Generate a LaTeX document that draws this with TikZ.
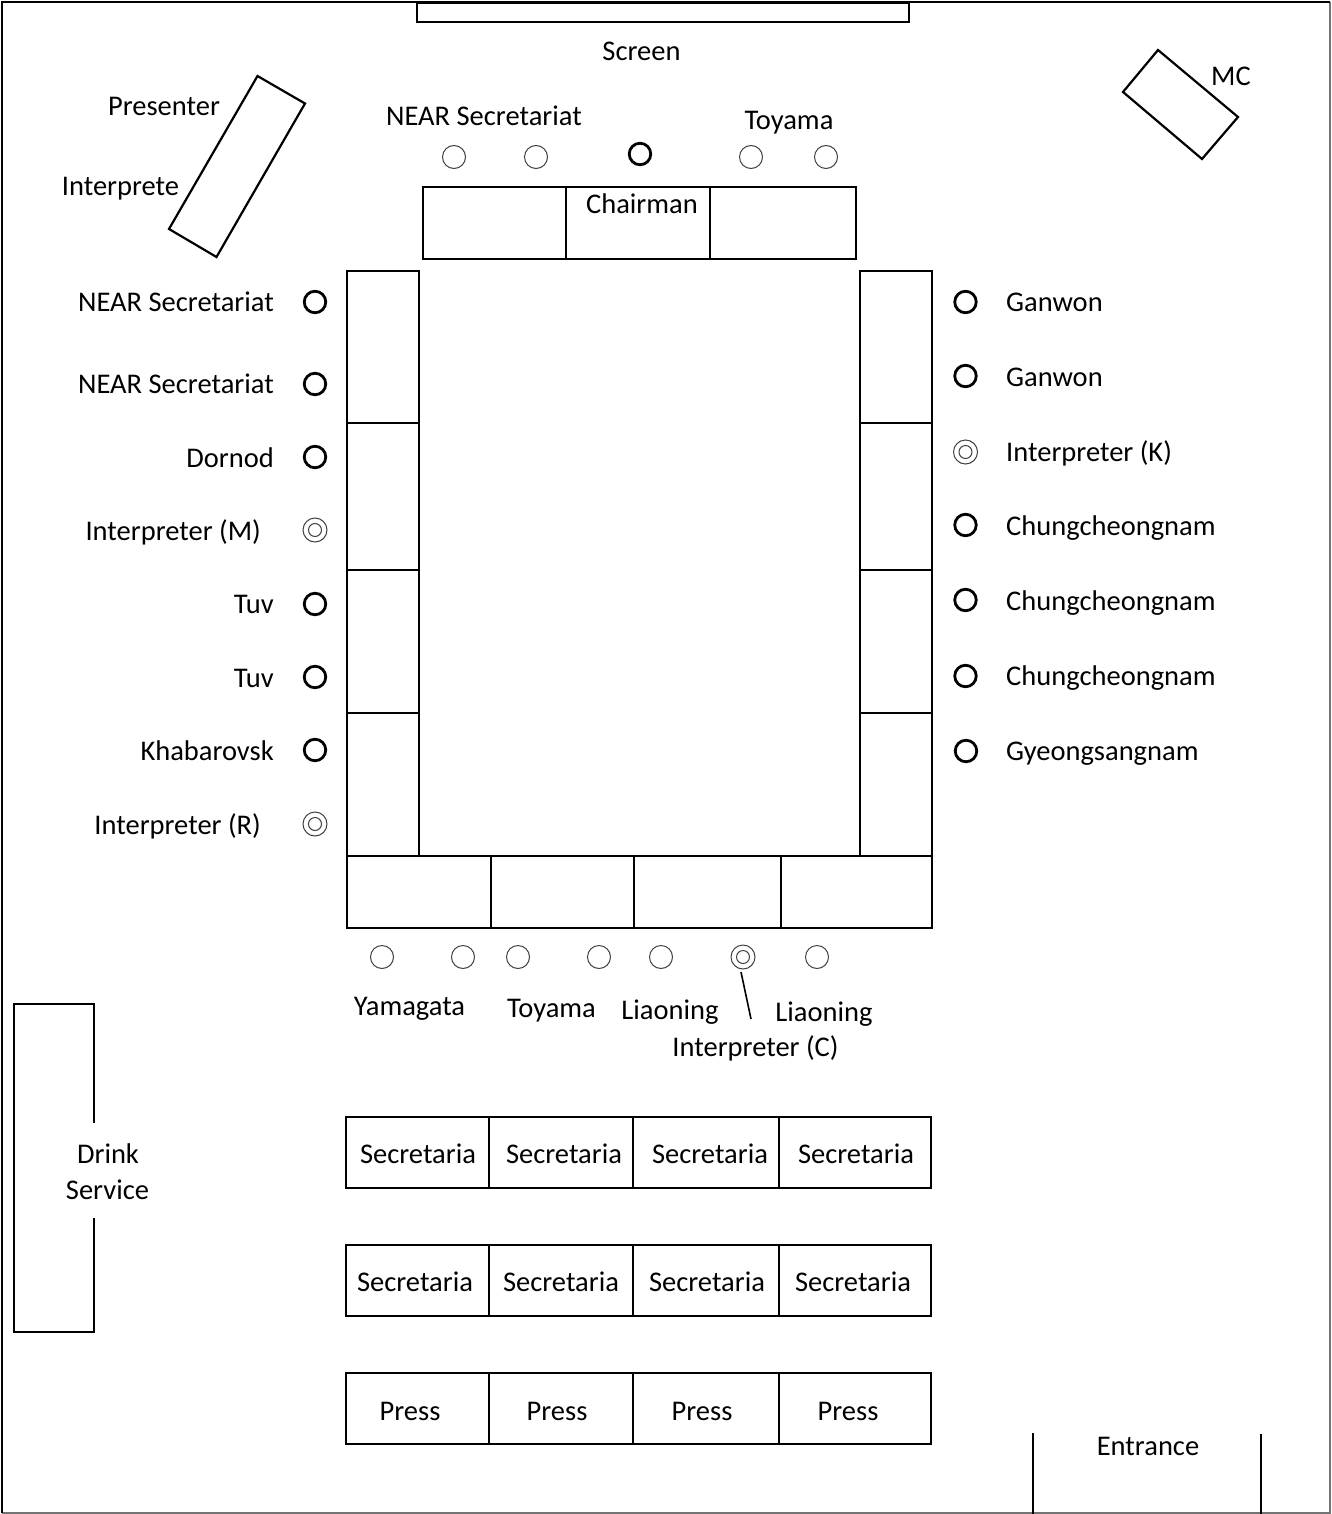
\documentclass[tikz,border=0pt]{standalone}
\usepackage{fontspec}
\setmainfont{Carlito}
\tikzset{
  lab/.style={font=\fontsize{28.5}{32}\selectfont,inner sep=0pt,text height=18pt,text depth=0pt,text=black},
  labr/.style={lab,anchor=east},
  labl/.style={lab,anchor=west},
  tbl/.style={draw=black,line width=2.2pt,line join=miter},
  wall/.style={draw=black,line width=2.6pt},
  wallthin/.style={draw=black!55,line width=1.2pt},
  seat/.style={circle,draw=black,line width=2.8pt,minimum size=21.5pt,inner sep=0pt},
  seatthin/.style={circle,draw=black!75,line width=1pt,minimum size=23pt,inner sep=0pt},
  seatouter/.style={circle,draw=black!75,line width=1pt,minimum size=24pt,inner sep=0pt},
  seatinner/.style={circle,draw=black!75,line width=1pt,minimum size=13pt,inner sep=0pt},
}
\newcommand{\dblseat}[3]{\node[seatouter] (#1) at (#2,#3) {};\node[seatinner] (#1i) at (#2,#3) {};}
\begin{document}
\begin{tikzpicture}[x=1pt,y=-1pt]
\useasboundingbox (0,0) rectangle (1331,1514);
% room
\draw[wallthin] (1330,2) -- (1330,1513) -- (2,1513);
\draw[wall] (2,1513) -- (2,2) -- (1330,2);
% screen
\draw[tbl] (417,3) rectangle (909,22);
% presenter and MC tables
\draw[tbl] (257.5,76) -- (305,103.5) -- (216.5,257) -- (169,229) -- cycle;
\draw[tbl] (1158,50) -- (1238,117) -- (1202,159) -- (1123,92) -- cycle;
% head table
\draw[tbl] (423,187) rectangle (856,259);
\draw[tbl] (566,187) -- (566,259) (710,187) -- (710,259);
% side tables
\draw[tbl] (347,271) rectangle (419,856);
\draw[tbl] (860,271) rectangle (932,856);
\foreach \yy in {423,570,713}{
  \draw[tbl] (347,\yy) -- (419,\yy);
  \draw[tbl] (860,\yy) -- (932,\yy);
}
% bottom table
\draw[tbl] (347,856) rectangle (932,928);
\draw[tbl] (491,856) -- (491,928) (634,856) -- (634,928) (781,856) -- (781,928);
% secretariat and press rows
\foreach \ya/\yb in {1117/1188,1245/1316,1373/1444}{
  \draw[tbl] (346,\ya) rectangle (931,\yb);
  \draw[tbl] (489,\ya) -- (489,\yb) (633,\ya) -- (633,\yb) (779,\ya) -- (779,\yb);
}
% drink service
\draw[tbl] (94,1123) -- (94,1004) -- (14,1004) -- (14,1332) -- (94,1332) -- (94,1218);
% entrance
\draw[tbl] (1033,1433) -- (1033,1514);
\draw[tbl] (1261,1434) -- (1261,1514);
% seats
\foreach \n/\xx/\yy in {t1/454/157,t2/536/157,t3/751/157,t4/826/157,
  b1/382/957,b2/463/957,b3/518/957,b4/599/957,b5/661/957,b6/817/957}
  \node[seatthin] (\n) at (\xx,\yy) {};
\node[seat] (chair) at (640,154) {};
\foreach \n/\xx/\yy in {l1/315/302,l2/315/384,l3/315/457,l4/315/604,l5/315/677,l6/315/750,
  r1/965.5/302,r2/965.5/376,r3/965.5/525,r4/965.5/600,r5/965.5/676,r6/966/751}
  \node[seat] (\n) at (\xx,\yy) {};
\dblseat{lm}{315}{530}
\dblseat{lr}{315}{824}
\dblseat{rk}{965.5}{452}
\dblseat{bc}{743}{957}
% labels
\node[lab] (screen) at (641.5,52) {Screen};
\node[lab] (nearT) at (484,117) {NEAR Secretariat};
\node[lab] (toyT) at (789,121) {Toyama};
\node[lab] (chairL) at (642,205) {Chairman};
\node[lab] (mc) at (1231,77) {MC};
\node[lab] (pres) at (164,107) {Presenter};
\node[lab] (intp) at (120.5,187) {Interprete};
\node[labr] (L1) at (274,302) {NEAR Secretariat};
\node[labr] (L2) at (274,384) {NEAR Secretariat};
\node[labr] (L3) at (274,458) {Dornod};
\node[labr] (L4) at (261,531) {Interpreter (M)};
\node[labr] (L5) at (274,604) {Tuv};
\node[labr] (L6) at (274,678) {Tuv};
\node[labr] (L7) at (274,751) {Khabarovsk};
\node[labr] (L8) at (261,825) {Interpreter (R)};
\node[labl] (R1) at (1006,302) {Ganwon};
\node[labl] (R2) at (1006,377) {Ganwon};
\node[labl] (R3) at (1006,452) {Interpreter (K)};
\node[labl] (R4) at (1006,526) {Chungcheongnam};
\node[labl] (R5) at (1006,601) {Chungcheongnam};
\node[labl] (R6) at (1006,676) {Chungcheongnam};
\node[labl] (R7) at (1006,751) {Gyeongsangnam};
\node[lab] (B1) at (409.5,1006) {Yamagata};
\node[lab] (B2) at (551.5,1008) {Toyama};
\node[lab] (B3) at (670,1010) {Liaoning};
\node[lab] (B4) at (824,1012) {Liaoning};
\node[lab] (B5) at (755.5,1047) {Interpreter (C)};
\foreach \n/\xx in {a/418,b/564,c/710,d/856} \node[lab] (s1\n) at (\xx,1154) {Secretaria};
\foreach \n/\xx in {a/415,b/561,c/707,d/853} \node[lab] (s2\n) at (\xx,1282) {Secretaria};
\foreach \n/\xx in {a/410,b/557,c/702,d/848} \node[lab] (p\n) at (\xx,1411) {Press};
\node[lab] (ent) at (1148,1446) {Entrance};
\node[lab] (drink) at (108,1154) {Drink};
\node[lab] (serv) at (107.5,1190) {Service};
% leader
\coordinate (leadA) at (741,972);
\coordinate (leadB) at (751,1019);
\draw[draw=black,line width=1.6pt] (leadA) -- (leadB);
\end{tikzpicture}
\end{document}
